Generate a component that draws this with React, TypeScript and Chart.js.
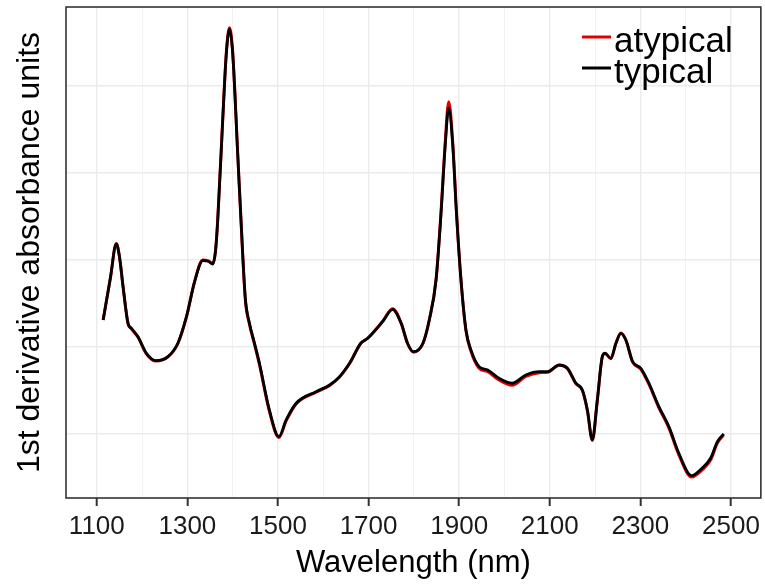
import React, { useEffect, useRef } from 'react';
import { Chart, registerables } from 'chart.js';

Chart.register(...registerables);

const wavelengths = [
  1114, 1130, 1143, 1150, 1158, 1169, 1176, 1191, 1209, 1231, 1257, 1279, 1298, 1316, 1334, 1346,
  1356, 1362, 1367, 1378, 1386, 1393, 1400, 1411, 1422, 1428, 1437, 1448, 1459, 1481, 1502, 1518,
  1540, 1584, 1614, 1636, 1658, 1683, 1698, 1731, 1753, 1772, 1786, 1799, 1820, 1834, 1849, 1860,
  1869, 1877, 1886, 1894, 1904, 1915, 1926, 1944, 1963, 1988, 2017, 2047, 2077, 2095, 2121, 2139,
  2158, 2172, 2183, 2194, 2205, 2216, 2222, 2235, 2246, 2257, 2268, 2283, 2301, 2319, 2341, 2363,
  2385, 2413, 2436, 2455, 2470, 2484,
];

const typical = [
  1.31, 1.793, 2.184, 2.038, 1.693, 1.272, 1.218, 1.118, 0.931, 0.843, 0.889, 1.043, 1.348, 1.751, 1.992, 1.985,
  1.954, 2.1, 2.46, 3.609, 4.376, 4.652, 4.376, 3.226, 2.077, 1.55, 1.272, 1.046, 0.813, 0.276, -0.031, 0.161,
  0.353, 0.486, 0.563, 0.659, 0.813, 1.043, 1.1, 1.291, 1.433, 1.272, 1.043, 0.946, 1.043, 1.31, 1.77, 2.537,
  3.302, 3.744, 3.302, 2.537, 1.77, 1.195, 0.966, 0.774, 0.736, 0.64, 0.583, 0.678, 0.716, 0.716, 0.793, 0.755,
  0.583, 0.506, 0.276, -0.069, 0.391, 0.889, 0.928, 0.87, 1.043, 1.157, 1.08, 0.831, 0.755, 0.583, 0.314, 0.084,
  -0.222, -0.479, -0.394, -0.279, -0.089, 0.0,
];

const atypical = [
  1.31, 1.793, 2.19, 2.04, 1.69, 1.265, 1.21, 1.112, 0.925, 0.838, 0.885, 1.04, 1.348, 1.755, 2.0, 1.99,
  1.958, 2.1, 2.47, 3.62, 4.39, 4.67, 4.39, 3.235, 2.07, 1.54, 1.262, 1.035, 0.8, 0.262, -0.04, 0.15,
  0.345, 0.48, 0.558, 0.655, 0.81, 1.043, 1.1, 1.295, 1.44, 1.272, 1.04, 0.94, 1.04, 1.31, 1.78, 2.56,
  3.34, 3.82, 3.34, 2.56, 1.77, 1.185, 0.95, 0.755, 0.715, 0.62, 0.56, 0.662, 0.705, 0.71, 0.79, 0.75,
  0.575, 0.5, 0.27, -0.075, 0.385, 0.885, 0.925, 0.865, 1.04, 1.16, 1.08, 0.826, 0.745, 0.57, 0.3, 0.07,
  -0.24, -0.495, -0.415, -0.3, -0.105, -0.01,
];

const seriesLabels = ['atypical', 'typical'];
const seriesColors = ['#e00000', '#000000'];

const xTicks = [1100, 1200, 1300, 1400, 1500, 1600, 1700, 1800, 1900, 2000, 2100, 2200, 2300, 2400, 2500];
const xLabelledTicks = [1100, 1300, 1500, 1700, 1900, 2100, 2300, 2500];
const yTicks = [0, 1, 2, 3, 4];

const X_MIN = 1032;
const X_MAX = 2566;
const Y_MIN = -0.736;
const Y_MAX = 4.908;

const FONT = '"Liberation Sans", Arial, sans-serif';

const panelBorder = {
  id: 'panelBorder',
  afterDraw(chart: any) {
    const { ctx, chartArea } = chart;
    ctx.save();
    ctx.strokeStyle = '#333333';
    ctx.lineWidth = 1.6;
    ctx.strokeRect(chartArea.left, chartArea.top, chartArea.right - chartArea.left, chartArea.bottom - chartArea.top);
    ctx.restore();
  },
};

const insideLegend = {
  id: 'insideLegend',
  afterDraw(chart: any) {
    const { ctx } = chart;
    ctx.save();
    ctx.font = `35px ${FONT}`;
    ctx.textBaseline = 'alphabetic';
    ctx.textAlign = 'left';
    chart.data.datasets.forEach((ds: any, i: number) => {
      const baseY = 52 + i * 31;
      const lineY = baseY - 15;
      ctx.strokeStyle = ds.borderColor;
      ctx.lineWidth = 3;
      ctx.beginPath();
      ctx.moveTo(582, lineY);
      ctx.lineTo(611, lineY);
      ctx.stroke();
      ctx.fillStyle = '#000000';
      ctx.fillText(ds.label, 614, baseY);
    });
    ctx.restore();
  },
};

export default function App() {
  const canvasRef = useRef<HTMLCanvasElement | null>(null);

  useEffect(() => {
    if (!canvasRef.current) return;
    const makeData = (vals: number[]) => wavelengths.map((w, i) => ({ x: w, y: vals[i] }));
    const chart = new Chart(canvasRef.current, {
      type: 'line',
      data: {
        datasets: [
          {
            label: seriesLabels[0],
            data: makeData(atypical),
            borderColor: seriesColors[0],
            borderWidth: 3,
            pointRadius: 0,
            cubicInterpolationMode: 'monotone',
            fill: false,
            order: 1,
          },
          {
            label: seriesLabels[1],
            data: makeData(typical),
            borderColor: seriesColors[1],
            borderWidth: 2.8,
            pointRadius: 0,
            cubicInterpolationMode: 'monotone',
            fill: false,
            order: 0,
          },
        ],
      },
      options: {
        animation: false,
        responsive: false,
        maintainAspectRatio: false,
        layout: { padding: { top: 7, right: 3, left: 0, bottom: 0 } },
        plugins: {
          legend: { display: false },
          tooltip: { enabled: false },
        },
        scales: {
          x: {
            type: 'linear',
            min: X_MIN,
            max: X_MAX,
            afterBuildTicks: (scale: any) => {
              scale.ticks = xTicks.map((v) => ({ value: v }));
            },
            afterFit: (scale: any) => {
              scale.height = 87;
            },
            border: { display: false },
            grid: {
              color: (c: any) => (xLabelledTicks.includes(c.tick?.value) ? '#ebebeb' : '#f2f2f2'),
              lineWidth: (c: any) => (xLabelledTicks.includes(c.tick?.value) ? 1.4 : 1),
              tickColor: (c: any) => (xLabelledTicks.includes(c.tick?.value) ? '#333333' : 'rgba(0,0,0,0)'),
              tickLength: 8,
              tickWidth: 2,
            },
            ticks: {
              autoSkip: false,
              maxRotation: 0,
              padding: 5,
              color: '#1a1a1a',
              font: { family: FONT, size: 26 },
              callback: (v: any) => (xLabelledTicks.includes(Number(v)) ? String(v) : ''),
            },
            title: {
              display: true,
              text: 'Wavelength (nm)',
              color: '#000000',
              font: { family: FONT, size: 31 },
              padding: { top: 0, bottom: 3 },
            },
          },
          y: {
            type: 'linear',
            min: Y_MIN,
            max: Y_MAX,
            afterBuildTicks: (scale: any) => {
              scale.ticks = yTicks.map((v) => ({ value: v }));
            },
            afterFit: (scale: any) => {
              scale.width = 66;
            },
            border: { display: false },
            grid: {
              color: '#ebebeb',
              lineWidth: 1.4,
              drawTicks: false,
            },
            ticks: { display: false },
            title: {
              display: true,
              text: '1st derivative absorbance units',
              color: '#000000',
              font: { family: FONT, size: 32 },
              padding: { top: 11, bottom: 0 },
            },
          },
        },
      },
      plugins: [panelBorder, insideLegend],
    });
    return () => chart.destroy();
  }, []);

  return (
    <div style={{ position: 'fixed', left: 0, top: 0, width: 765, height: 585, background: '#ffffff' }}>
      <canvas ref={canvasRef} width={765} height={585} style={{ display: 'block', width: 765, height: 585 }} />
    </div>
  );
}
